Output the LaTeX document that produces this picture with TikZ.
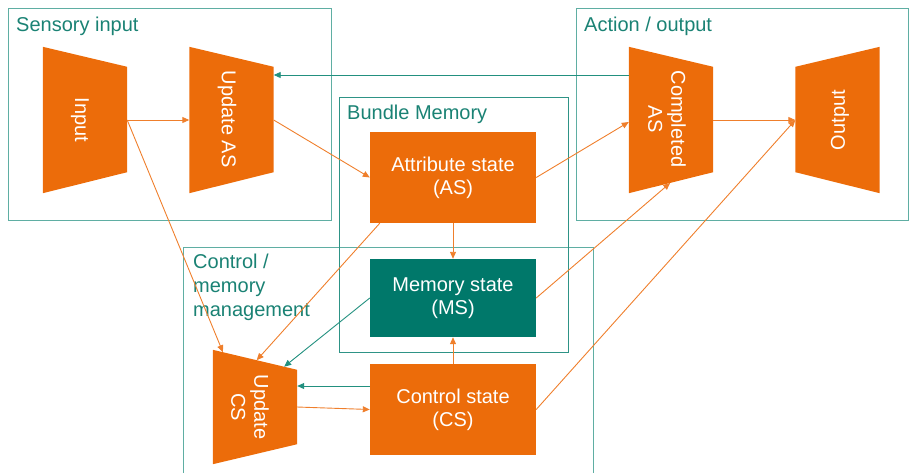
\documentclass[tikz,border=0pt]{standalone}
\usepackage{fontspec}
\setmainfont{Liberation Sans}
\usetikzlibrary{arrows.meta,calc}

\definecolor{orng}{HTML}{EC6C0A}
\definecolor{orline}{HTML}{EF7F2C}
\definecolor{tealfill}{HTML}{00786A}
\definecolor{tealline}{HTML}{22907F}
\definecolor{framelight}{HTML}{5FAEA3}
\definecolor{framedark}{HTML}{2E9386}
\definecolor{grouptxt}{HTML}{1A8274}

\begin{document}
\begin{tikzpicture}[x=1pt,y=-1pt,
  every node/.style={font=\fontsize{20}{23}\selectfont},
  groupframe/.style={draw=framelight, line width=1pt},
  groupframedark/.style={draw=framedark, line width=1pt},
  grouplabel/.style={text=grouptxt, inner sep=0pt, align=left},
  statebox/.style={fill=orng, text=white, minimum width=166pt, minimum height=91pt,
                   inner sep=0pt, align=center,
                   execute at begin node={\rule{0pt}{20pt}}},
  memorybox/.style={statebox, fill=tealfill, minimum height=78pt},
  trapbox/.style={minimum width=84pt, minimum height=146pt, inner sep=0pt},
  traplabel/.style={text=white, inner sep=0pt, align=center},
  oarrow/.style={draw=orline, line width=0.9pt, -{Triangle[length=7pt,width=6pt]}},
  tarrow/.style={draw=tealline, line width=0.9pt, -{Triangle[length=7pt,width=6pt]}}]

\useasboundingbox (0,0) rectangle (909,472);

% group frames
\draw[groupframe] (8,8) rectangle (331,220);
\draw[groupframe] (576,8) rectangle (908,220);
\draw[groupframe] (183,480) -- (183,247) -- (593,247) -- (593,480);
\draw[groupframedark] (339,97) rectangle (568,352);

\node[grouplabel, anchor=base west] (lsens) at (16,31) {Sensory input};
\node[grouplabel, anchor=base west] (lact) at (584,31) {Action / output};
\node[grouplabel, anchor=base west] (lbund) at (347,119) {Bundle Memory};
\node[grouplabel, anchor=north west, font=\fontsize{20}{24}\selectfont] (lctrl) at (193,254)
  {Control /\\memory\\management};

% state boxes
\node[statebox] (as) at (453,177.5) {Attribute state\\(AS)};
\node[memorybox] (ms) at (453,298) {Memory state\\(MS)};
\node[statebox] (cs) at (453,409.5) {Control state\\(CS)};

% trapezoid blocks
\node[trapbox] (inp) at (85,120) {};
\node[trapbox] (uas) at (231.5,120) {};
\node[trapbox] (cas) at (671,120) {};
\node[trapbox] (out) at (837.5,120) {};
\node[trapbox, minimum height=114pt] (ucs) at (255,407) {};

\coordinate (ucs-ne) at ($(ucs.north east)+(0,20)$);
\coordinate (ucs-se) at ($(ucs.south east)+(0,-20)$);
\coordinate (cas-se) at ($(cas.south east)+(0,-21)$);

\fill[orng] (inp.north west) -- ($(inp.north east)+(0,20)$) -- ($(inp.south east)+(0,-21)$) -- (inp.south west) -- cycle;
\fill[orng] (uas.north west) -- ($(uas.north east)+(0,20)$) -- ($(uas.south east)+(0,-21)$) -- (uas.south west) -- cycle;
\fill[orng] (cas.north west) -- ($(cas.north east)+(0,20)$) -- (cas-se) -- (cas.south west) -- cycle;
\fill[orng] ($(out.north west)+(0,20)$) -- (out.north east) -- (out.south east) -- ($(out.south west)+(0,-21)$) -- cycle;
\fill[orng] (ucs.north west) -- (ucs-ne) -- (ucs-se) -- (ucs.south west) -- cycle;

\node[traplabel, rotate=-90] (inp-t) at (80,120) {Input};
\node[traplabel, rotate=-90] (uas-t) at (227,119) {Update AS};
\node[traplabel, rotate=-90] (cas-t) at (667,119) {Completed\\AS};
\node[traplabel, rotate=90] (out-t) at (840,120) {Output};
\node[traplabel, rotate=-90] (ucs-t) at (250,407) {Update\\CS};

% connectors
\draw[oarrow] (inp.east) -- (uas.west);
\draw[oarrow] (inp.east) -- ($(ucs.north west)!0.12!(ucs-ne)$);
\draw[oarrow] (uas.east) -- (as.west);
\draw[oarrow] (as.east) -- ($(cas.west)+(0,2)$);
\draw[oarrow] (cas.east) -- (out.west);
\draw[tarrow] ($(cas.west)+(0,-45)$) -- ($(uas.east)+(0,-45)$);
\draw[oarrow] (as.south) -- (ms.north);
\draw[oarrow] ($(as.south west)+(10,0)$) -- ($(ucs.north west)!0.52!(ucs-ne)$);
\draw[tarrow] (ms.west) -- ($(ucs.north west)!0.845!(ucs-ne)$);
\draw[tarrow] ($(cs.west)+(0,-23.5)$) -- ($(ucs.east)+(0,-21)$);
\draw[oarrow] (ucs.east) -- (cs.west);
\draw[oarrow] (cs.north) -- (ms.south);
\draw[oarrow] (ms.east) -- ($(cas.south west)!0.49!(cas-se)$);
\draw[oarrow] (cs.east) -- (out.west);
\end{tikzpicture}
\end{document}
